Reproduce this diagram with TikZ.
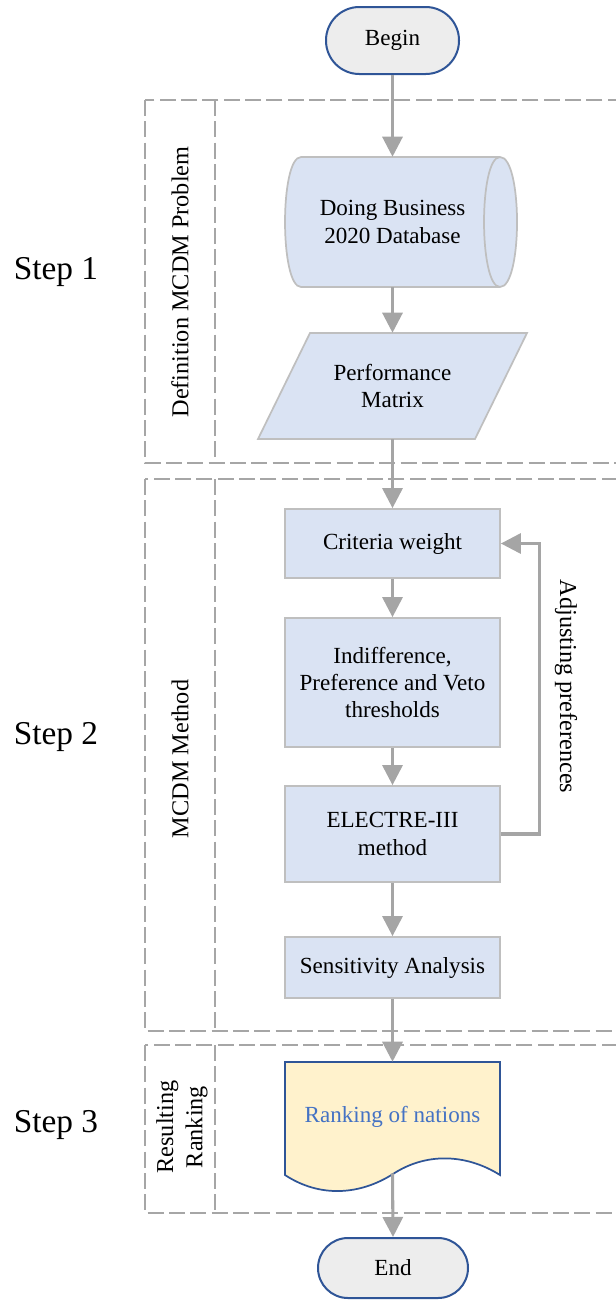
\documentclass[tikz,border=0pt]{standalone}
\usepackage{fontspec}
\setmainfont{Liberation Serif}
\usetikzlibrary{arrows.meta}
\definecolor{boxfill}{HTML}{DAE3F3}
\definecolor{boxline}{HTML}{BFBFBF}
\definecolor{termfill}{HTML}{EDEDED}
\definecolor{navy}{HTML}{2F5597}
\definecolor{docfill}{HTML}{FFF2CC}
\definecolor{doctext}{HTML}{4472C4}
\definecolor{arrowgray}{HTML}{A5A5A5}
\definecolor{dashgray}{HTML}{A6A6A6}
\begin{document}
\begin{tikzpicture}[x=0.75pt,y=-0.75pt,
  every node/.style={font=\fontsize{17.3}{20.5}\selectfont, align=center, inner sep=0pt},
  steplabel/.style={font=\fontsize{25}{30}\selectfont},
  sidelabel/.style={rotate=90, font=\fontsize{18.2}{22}\selectfont},
  groupbox/.style={draw=dashgray, line width=1.5pt, dash pattern=on 12pt off 4pt},
  terminal/.style={draw=navy, fill=termfill, line width=1.5pt},
  procbox/.style={draw=boxline, fill=boxfill, line width=1.3pt, minimum width=161.25pt},
  shapeline/.style={draw=boxline, fill=boxfill, line width=1.3pt},
  docline/.style={draw=navy, fill=docfill, line width=1.3pt},
  ghost/.style={minimum width=161.25pt},
  flow/.style={draw=arrowgray, line width=2.3pt, -{Triangle[length=15pt,width=15pt]}},
  backflow/.style={draw=arrowgray, line width=2.3pt, -{Triangle[length=15pt,width=15pt]}}
]
\useasboundingbox (0,0) rectangle (615,1300);

% group boxes
\draw[groupbox] (145,100) rectangle (640,463);
\draw[groupbox] (215,100) -- (215,463);
\draw[groupbox] (145,479) rectangle (640,1031);
\draw[groupbox] (215,479) -- (215,1031);
\draw[groupbox] (145,1045) rectangle (640,1213);
\draw[groupbox] (215,1045) -- (215,1213);

% step labels
\node[steplabel] (s1) at (56,272) {Step 1};
\node[steplabel] (s2) at (56,737) {Step 2};
\node[steplabel] (s3) at (56,1125) {Step 3};

% side labels
\node[sidelabel] (g1) at (180,282) {Definition MCDM Problem};
\node[sidelabel] (g2) at (180,759) {MCDM Method};
\node[sidelabel] (g3) at (182,1127) {Resulting\\Ranking};

% terminals
\node[terminal, minimum width=99.75pt, minimum height=50.25pt, rounded corners=25pt] (begin) at (392.5,40.5) {Begin};
\node[terminal, minimum width=112.5pt, minimum height=45pt, rounded corners=22.5pt] (end) at (393,1268) {End};

% cylinder (database)
\draw[shapeline] (301,157) -- (500,157) .. controls (522.7,157) and (522.7,287) .. (500,287) -- (301,287) .. controls (279.7,287) and (279.7,157) .. (301,157) -- cycle;
\draw[draw=boxline, line width=1.3pt] (500,157) .. controls (478.7,157) and (478.7,287) .. (500,287);
\node[ghost, minimum height=97.5pt] (db) at (392.5,222) {Doing Business\\2020 Database};

% parallelogram
\draw[shapeline] (310,333) -- (527,333) -- (475,439) -- (258,439) -- cycle;
\node[ghost, minimum height=79.5pt] (pm) at (392.5,386) {Performance\\Matrix};

% process boxes
\node[procbox, minimum height=51.75pt] (crit) at (392.5,543.5) {Criteria weight};
\node[procbox, minimum height=96.75pt] (ind) at (392.5,682.5) {Indifference,\\Preference and Veto\\thresholds};
\node[procbox, minimum height=72pt] (ele) at (392.5,834) {ELECTRE-III\\method};
\node[procbox, minimum height=45.75pt] (sen) at (392.5,967.5) {Sensitivity Analysis};

% document
\draw[docline] (285,1062) -- (500,1062) -- (500,1175) .. controls (465,1153) and (425,1153) .. (393,1174) .. controls (360,1195) and (320,1198) .. (285,1175) -- cycle;
\node[ghost, minimum height=83.25pt, text=doctext] (rank) at (392.5,1117.5) {\raisebox{4pt}{Ranking of nations}};

% flow arrows
\draw[flow] (begin.south) -- (db.north);
\draw[flow] (db.south) -- (pm.north);
\draw[flow] (pm.south) -- (crit.north);
\draw[flow] (crit.south) -- (ind.north);
\draw[flow] (ind.south) -- (ele.north);
\draw[flow] (ele.south) -- (sen.north);
\draw[flow] (sen.south) -- (rank.north);
\draw[flow] (rank.south) -- (end.north);

% feedback
\draw[backflow] (ele.east) -- ++(38.5,0) |- (crit.east);
\node[rotate=-90, font=\fontsize{18.2}{22}\selectfont] (adj) at (566,686.5) {Adjusting preferences};
\end{tikzpicture}
\end{document}
